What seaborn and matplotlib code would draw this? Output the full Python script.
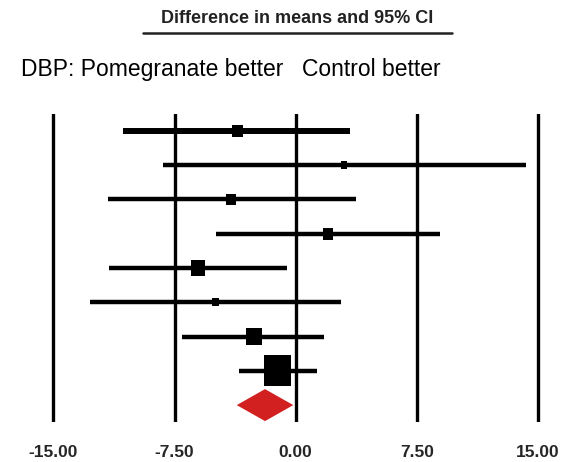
import numpy as np
import pandas as pd
import matplotlib
matplotlib.use("Agg")
import matplotlib.pyplot as plt
from matplotlib.lines import Line2D
import seaborn as sns

# ---- data ----
study_rows = [1, 2, 3, 4, 5, 6, 7, 8]
means = [-3.61, 2.99, -4.00, 2.02, -6.03, -4.95, -2.58, -1.13]
lower = [-10.67, -8.24, -11.64, -4.95, -11.54, -12.74, -7.02, -3.49]
upper = [3.36, 14.26, 3.73, 8.94, -0.52, 2.79, 1.77, 1.30]
weights = [6.9, 3.1, 5.8, 6.9, 12.3, 3.1, 15.6, 46.3]   # relative weights (%)

pooled_row = 9
pooled_mean = -1.90
pooled_lower = -3.65
pooled_upper = -0.15

tick_values = [-15.0, -7.5, 0.0, 7.5, 15.0]
tick_labels = ["-15.00", "-7.50", "0.00", "7.50", "15.00"]

title_text = "Difference in means and 95% CI"
left_label = "DBP: Pomegranate better"
right_label = "Control better"

# ---- figure ----
sns.set_style("white")
plt.rcParams["font.family"] = ["Liberation Sans", "DejaVu Sans"]

W, H = 573, 462
fig = plt.figure(figsize=(W / 100, H / 100), dpi=100)
top_px, bot_px = 114, 421.7
ax = fig.add_axes([0, 1 - bot_px / H, 1, (bot_px - top_px) / H])

df = pd.DataFrame({"row": study_rows, "mean": means, "lo": lower,
                   "hi": upper, "w": weights})

# reference vertical lines
for t in tick_values:
    ax.axvline(t, color="black", lw=2.4, zorder=1)

# confidence intervals
lws = [4.3] + [3.2] * (len(df) - 1)
ax.hlines(df["row"], df["lo"], df["hi"], color="black", lw=lws, zorder=2)

# boxes (area proportional to weight), slightly taller than wide
box = [(-0.43, -0.5), (0.43, -0.5), (0.43, 0.5), (-0.43, 0.5), (-0.43, -0.5)]
k = 10.76
sns.scatterplot(data=df, x="mean", y="row", marker=box, color="black",
                s=[w * k for w in df["w"]], linewidth=0, ax=ax, zorder=3,
                legend=False)

# pooled diamond
h = 0.466
ax.fill([pooled_lower, pooled_mean, pooled_upper, pooled_mean],
        [pooled_row, pooled_row - h, pooled_row, pooled_row + h],
        color="#D21F1F", lw=0, zorder=3)

ax.set_xlim(-18.31, 17.17)
ax.set_ylim(9.484, 0.513)
ax.set_xticks(tick_values)
ax.set_xticklabels(tick_labels, fontsize=12.5, fontweight="bold")
ax.tick_params(axis="x", length=0, pad=17)
ax.set_yticks([])
ax.set_xlabel("")
ax.set_ylabel("")
for sp in ax.spines.values():
    sp.set_visible(False)

# header texts
fig.text(297 / W, 1 - 23 / H, title_text, ha="center", va="baseline",
         fontsize=13, fontweight="bold", color="#222222")
fig.add_artist(Line2D([143 / W, 452 / W], [1 - 32.5 / H, 1 - 32.5 / H],
                      color="#222222", lw=1.8))
fig.text(21 / W, 1 - 76 / H, left_label, ha="left", va="baseline",
         fontsize=16.5, color="black")
fig.text(302 / W, 1 - 76 / H, right_label, ha="left", va="baseline",
         fontsize=16.5, color="black")

fig.savefig("out.png", dpi=100)
